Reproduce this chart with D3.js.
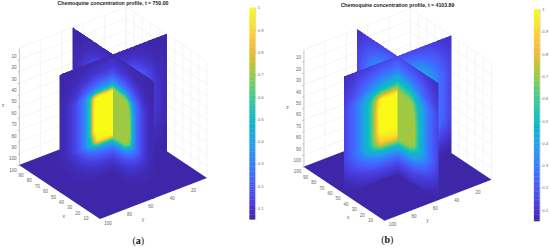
<!DOCTYPE html>
<html>
<head>
<meta charset="utf-8">
<script src="https://cdn.jsdelivr.net/npm/d3@7"></script>
<style>
  html, body { margin: 0; padding: 0; background: #fff; }
  svg { display: block; }
  text { font-family: "Liberation Sans", sans-serif; }
</style>
</head>
<body>
<div id="chart"></div>
<script>
// Tick labels
var xTicks = [10, 20, 30, 40, 50, 60, 70, 80, 90, 100];
var yTicks = [20, 40, 60, 80, 100];
var zTicks = [10, 20, 30, 40, 50, 60, 70, 80, 90, 100];
var barTicks = [0.1, 0.2, 0.3, 0.4, 0.5, 0.6, 0.7, 0.8, 0.9, 1];
var titles = ["Chemoquine concentration profile, t = 750.00", "Chemoquine concentration profile, t = 4103.89"];
var captions = ["a", "b"];

// Colormap stops (parula)
var parulaStops = ["#3E26A8", "#4537D5", "#484DF0", "#4563FD", "#327CFC", "#2B91EF", "#20A5E3", "#08B5D0", "#19BFB6",
  "#37C897", "#64CD6F", "#9DC943", "#D1BF27", "#F8BA3D", "#FCCF30", "#F5E924", "#F9FB15"];

// Where the slice values were read: distance from the centre line, and depth
var frontU = [0, 15, 17, 19, 21, 23, 26, 30, 35, 40, 45, 50];
var frontZ = [0, 10, 15, 20, 24, 28, 30, 32, 40, 50, 60, 68, 70, 72, 76, 80, 85, 90, 95, 100];
var backU = [0, 10, 20, 30, 40, 50];
var backZ = [0, 10, 20, 30, 40, 50, 60, 70, 80, 90, 100];

var frontLeftA = [
  [.062,.062,.062,.062,.06,.058,.056,.055,.054,.052,.05,.05],
  [.11,.10,.10,.095,.09,.085,.08,.072,.064,.058,.054,.052],
  [.165,.15,.14,.135,.125,.115,.105,.09,.075,.062,.056,.052],
  [.26,.225,.21,.20,.19,.18,.155,.125,.095,.072,.06,.055],
  [.37,.32,.30,.29,.27,.24,.20,.155,.105,.08,.065,.057],
  [.62,.58,.52,.46,.40,.35,.28,.21,.135,.095,.07,.06],
  [.88,.86,.80,.68,.54,.44,.32,.235,.15,.10,.07,.06],
  [1,1,.95,.84,.60,.46,.33,.24,.15,.10,.07,.06],
  [1,1,1,.88,.62,.48,.33,.24,.15,.10,.07,.06],
  [1,1,1,.88,.62,.48,.33,.24,.15,.10,.07,.06],
  [1,1,1,.88,.62,.48,.33,.24,.15,.10,.07,.06],
  [1,.95,.82,.66,.52,.44,.33,.24,.15,.10,.07,.06],
  [.88,.84,.74,.60,.50,.43,.32,.235,.15,.10,.07,.06],
  [.62,.60,.56,.50,.43,.37,.29,.22,.14,.095,.07,.06],
  [.37,.32,.30,.29,.27,.24,.20,.155,.105,.08,.065,.057],
  [.26,.225,.21,.20,.19,.18,.155,.125,.095,.072,.06,.055],
  [.165,.15,.14,.135,.125,.115,.105,.09,.075,.062,.056,.052],
  [.11,.10,.10,.095,.09,.085,.08,.072,.064,.058,.054,.052],
  [.075,.075,.075,.075,.072,.07,.068,.062,.058,.054,.052,.05],
  [.062,.062,.062,.062,.06,.058,.056,.055,.054,.052,.05,.05]
];
var frontRightA = [
  [.062,.062,.062,.062,.06,.058,.056,.055,.054,.052,.05,.05],
  [.11,.10,.10,.095,.09,.085,.08,.072,.064,.058,.054,.052],
  [.165,.15,.14,.135,.125,.115,.105,.09,.075,.062,.056,.052],
  [.26,.225,.21,.20,.19,.18,.155,.125,.095,.072,.06,.055],
  [.37,.32,.30,.29,.27,.24,.20,.155,.105,.08,.065,.057],
  [.60,.52,.46,.40,.34,.30,.26,.20,.13,.095,.07,.06],
  [.70,.66,.60,.50,.40,.34,.28,.22,.14,.10,.07,.06],
  [.705,.705,.70,.66,.55,.42,.31,.235,.15,.10,.07,.06],
  [.705,.705,.705,.705,.66,.52,.35,.24,.15,.10,.07,.06],
  [.705,.705,.705,.705,.69,.55,.36,.24,.15,.10,.07,.06],
  [.705,.705,.705,.705,.69,.55,.36,.24,.15,.10,.07,.06],
  [.705,.705,.705,.70,.62,.48,.33,.24,.15,.10,.07,.06],
  [.705,.70,.66,.58,.45,.38,.30,.23,.15,.10,.07,.06],
  [.64,.58,.50,.42,.36,.32,.27,.21,.14,.095,.07,.06],
  [.40,.34,.32,.30,.27,.24,.20,.155,.105,.08,.065,.057],
  [.27,.23,.21,.20,.19,.18,.155,.125,.095,.072,.06,.055],
  [.165,.15,.14,.135,.125,.115,.105,.09,.075,.062,.056,.052],
  [.11,.10,.10,.095,.09,.085,.08,.072,.064,.058,.054,.052],
  [.075,.075,.075,.075,.072,.07,.068,.062,.058,.054,.052,.05],
  [.062,.062,.062,.062,.06,.058,.056,.055,.054,.052,.05,.05]
];
var frontLeftB = [
  [.15,.145,.14,.14,.135,.13,.125,.115,.105,.095,.085,.075],
  [.265,.245,.24,.235,.225,.22,.205,.19,.165,.135,.11,.095],
  [.35,.32,.31,.30,.29,.275,.26,.23,.195,.16,.13,.105],
  [.47,.42,.40,.38,.36,.34,.31,.27,.22,.18,.14,.115],
  [.58,.54,.52,.50,.47,.44,.40,.34,.27,.215,.165,.13],
  [.76,.74,.70,.66,.60,.55,.48,.40,.32,.25,.19,.14],
  [.90,.88,.82,.74,.66,.60,.52,.43,.33,.25,.19,.14],
  [1,1,.96,.84,.72,.64,.54,.44,.33,.25,.19,.14],
  [1,1,1,.90,.76,.66,.55,.44,.33,.25,.19,.14],
  [1,1,1,.90,.76,.66,.55,.44,.33,.25,.19,.14],
  [1,1,.98,.88,.75,.66,.55,.44,.33,.25,.19,.14],
  [.92,.88,.84,.76,.68,.62,.53,.43,.33,.25,.19,.14],
  [.84,.80,.76,.70,.64,.58,.51,.42,.325,.25,.19,.14],
  [.74,.70,.66,.62,.58,.54,.47,.39,.31,.24,.185,.135],
  [.52,.48,.46,.45,.43,.41,.38,.33,.27,.21,.165,.125],
  [.39,.36,.35,.34,.33,.31,.29,.26,.22,.185,.145,.11],
  [.27,.25,.245,.24,.235,.225,.21,.19,.17,.145,.115,.09],
  [.175,.165,.16,.16,.155,.15,.14,.13,.115,.10,.085,.07],
  [.115,.115,.115,.115,.11,.11,.105,.10,.09,.08,.065,.058],
  [.075,.075,.075,.075,.072,.07,.068,.065,.06,.056,.052,.05]
];
var frontRightB = [
  [.15,.145,.14,.14,.135,.13,.125,.115,.105,.095,.085,.075],
  [.265,.245,.24,.235,.225,.22,.205,.19,.165,.135,.11,.095],
  [.35,.32,.31,.30,.29,.275,.26,.23,.195,.16,.13,.105],
  [.47,.42,.40,.38,.36,.34,.31,.27,.22,.18,.14,.115],
  [.58,.54,.52,.50,.47,.44,.40,.34,.27,.215,.165,.13],
  [.66,.62,.60,.57,.53,.50,.45,.38,.31,.24,.19,.14],
  [.705,.68,.65,.62,.57,.53,.47,.40,.32,.25,.19,.14],
  [.705,.705,.70,.68,.62,.56,.49,.42,.33,.25,.19,.14],
  [.705,.705,.705,.72,.68,.60,.52,.43,.33,.25,.19,.14],
  [.705,.705,.705,.72,.72,.63,.54,.44,.33,.25,.19,.14],
  [.705,.705,.705,.72,.72,.63,.54,.44,.33,.25,.19,.14],
  [.705,.705,.705,.70,.68,.60,.52,.43,.33,.25,.19,.14],
  [.705,.70,.68,.65,.60,.55,.49,.41,.325,.25,.19,.14],
  [.68,.63,.60,.56,.53,.50,.45,.38,.31,.24,.185,.135],
  [.52,.48,.46,.45,.43,.41,.38,.33,.27,.21,.165,.125],
  [.39,.36,.35,.34,.33,.31,.29,.26,.22,.185,.145,.11],
  [.27,.25,.245,.24,.235,.225,.21,.19,.17,.145,.115,.09],
  [.175,.165,.16,.16,.155,.15,.14,.13,.115,.10,.085,.07],
  [.115,.115,.115,.115,.11,.11,.105,.10,.09,.08,.065,.058],
  [.075,.075,.075,.075,.072,.07,.068,.065,.06,.056,.052,.05]
];
// Back quarters are mostly hidden
var backA = [
  [.06,.06,.058,.055,.052,.05],
  [.10,.10,.09,.07,.058,.052],
  [.25,.24,.19,.115,.07,.055],
  [.85,.73,.41,.19,.09,.058],
  [1,1,.73,.24,.10,.06],
  [1,1,.85,.25,.10,.06],
  [1,1,.73,.24,.10,.06],
  [.85,.73,.41,.19,.09,.058],
  [.25,.24,.19,.115,.07,.055],
  [.10,.10,.09,.07,.058,.052],
  [.06,.06,.058,.055,.052,.05]
];
var backB = [
  [.15,.15,.14,.125,.105,.085],
  [.265,.265,.24,.20,.15,.105],
  [.47,.46,.40,.30,.20,.13],
  [.85,.80,.57,.40,.25,.14],
  [1,1,.80,.44,.25,.14],
  [1,1,.85,.44,.25,.14],
  [1,1,.80,.44,.25,.14],
  [.80,.75,.55,.40,.24,.135],
  [.39,.38,.33,.26,.17,.11],
  [.175,.17,.155,.13,.10,.07],
  [.075,.072,.066,.06,.054,.05]
];
var floorValue = 0.05;

var panelData = [
  { frontLeft: frontLeftA, frontRight: frontRightA, back: backA },
  { frontLeft: frontLeftB, frontRight: frontRightB, back: backB }
];

var width = 550, height = 251;
var svg = d3.select("#chart").append("svg").attr("width", width).attr("height", height);

// Slight softening, the source picture is a scaled down bitmap
svg.append("defs").append("filter")
  .attr("id", "soft")
  .attr("x", "-5%").attr("y", "-5%").attr("width", "110%").attr("height", "110%")
  .append("feGaussianBlur")
  .attr("stdDeviation", 0.4);

// Colour scale
var color = d3.scaleLinear()
  .domain(parulaStops.map((d, i) => 0.05 + 0.95 * i / (parulaStops.length - 1)))
  .range(parulaStops)
  .clamp(true);

// 3D view: one scale per data axis, added together
var xDx = d3.scaleLinear().domain([0, 100]).range([0, -81]);
var xDy = d3.scaleLinear().domain([0, 100]).range([0, -54]);
var yDx = d3.scaleLinear().domain([100, 0]).range([0, 107]);
var yDy = d3.scaleLinear().domain([100, 0]).range([0, -41]);
var zDy = d3.scaleLinear().domain([100, 0]).range([0, -117]);

function project(x, y, z) {
  return [100 + xDx(x) + yDx(y), 219 + xDy(x) + yDy(y) + zDy(z)];
}

var gridColor = "#eeeeee", tickColor = "#777";

// Shading between the table's read values, like shading interp
function shade(table, us, zs, u, z) {
  var c = Math.min(d3.bisectRight(us, u) - 1, us.length - 2);
  var r = Math.min(d3.bisectRight(zs, z) - 1, zs.length - 2);
  var fc = (u - us[c]) / (us[c + 1] - us[c]), fr = (z - zs[r]) / (zs[r + 1] - zs[r]);
  return (table[r][c] * (1 - fc) + table[r][c + 1] * fc) * (1 - fr) +
    (table[r + 1][c] * (1 - fc) + table[r + 1][c + 1] * fc) * fr;
}

// Draws one quarter of a slice. toPoint(u, z) gives the pixel position
function drawQuarter(g, table, us, zs, step, toPoint) {
  var cells = [];
  for (var z = 0; z < 100; z += step) {
    for (var u = 0; u < 50; u += step) {
      cells.push({ u: u, z: z, v: shade(table, us, zs, u + step / 2, z + step / 2) });
    }
  }
  g.append("g").selectAll("path")
    .data(cells)
    .join("path")
    .attr("d", d => d3.line()([
      toPoint(d.u, d.z),
      toPoint(d.u + step, d.z),
      toPoint(d.u + step, d.z + step),
      toPoint(d.u, d.z + step)
    ]) + "Z")
    .attr("fill", d => color(d.v))
    .attr("stroke", d => color(d.v))
    .attr("stroke-width", 0.5)
    .attr("shape-rendering", "crispEdges");
}

function drawPanel(i, offsetX, offsetY) {
  var g = svg.append("g").attr("transform", "translate(" + offsetX + "," + offsetY + ")");
  var data = panelData[i];

  // Grid on the two back walls
  var walls = g.append("g").attr("stroke", gridColor).attr("stroke-width", 0.6).attr("fill", "none");
  var wallLine = (a, b) => walls.append("path").attr("d", d3.line()([a, b]));
  [0].concat(zTicks).forEach(z => {
    wallLine(project(100, 100, z), project(100, 0, z));
    wallLine(project(100, 0, z), project(0, 0, z));
  });
  [0].concat(yTicks).forEach(y => wallLine(project(100, y, 100), project(100, y, 0)));
  [0].concat(xTicks).forEach(x => wallLine(project(x, 0, 100), project(x, 0, 0)));

  var surface = g.append("g").attr("filter", "url(#soft)");

  // Floor
  surface.append("path")
    .attr("d", d3.line()([project(0, 100, 100), project(100, 100, 100), project(100, 0, 100), project(0, 0, 100)]) + "Z")
    .attr("fill", color(floorValue));

  // Slices, back to front
  drawQuarter(surface, data.back, backU, backZ, 2, (u, z) => project(50 + u, 50, z));
  drawQuarter(surface, data.back, backU, backZ, 2, (u, z) => project(50, 50 - u, z));
  drawQuarter(surface, data.frontLeft, frontU, frontZ, 1, (u, z) => project(50, 50 + u, z));
  drawQuarter(surface, data.frontRight, frontU, frontZ, 1, (u, z) => project(50 - u, 50, z));

  // z axis
  var zTop = project(100, 100, 0), zBottom = project(100, 100, 100);
  var zScale = d3.scaleLinear().domain([0, 100]).range([zTop[1], zBottom[1]]);
  var zAxis = g.append("g")
    .attr("transform", "translate(" + zTop[0] + ",0)")
    .call(d3.axisLeft(zScale).tickValues(zTicks).tickSize(1.5).tickPadding(1).tickSizeOuter(0));
  zAxis.select(".domain").attr("stroke", "#999").attr("stroke-width", 0.5);
  zAxis.selectAll("line").attr("stroke", tickColor).attr("stroke-width", 0.4);
  zAxis.selectAll("text").attr("font-size", 4.5).attr("fill", "#666").attr("dy", d => (-2.2 - d * 0.03) + "px")
    .style("font-family", "Liberation Sans");

  var label = (text, x, y, size) => g.append("text")
    .attr("x", x).attr("y", y)
    .attr("text-anchor", "middle")
    .attr("dominant-baseline", "middle")
    .attr("font-size", size || 4.5)
    .attr("fill", "#666")
    .text(text);

  xTicks.forEach(x => {
    var p = project(x, 100, 100);
    label(x, p[0] - 6, p[1] + 5.5);
  });
  yTicks.forEach(y => {
    var p = project(0, y, 100);
    label(y, p[0] + 8, p[1] + 4.5);
  });
  label("x", 63.7, 216.3, 5);
  label("y", 143, 219.3, 5);
  label("z", 3, 106, 5);

  // Title
  g.append("text")
    .attr("x", 113).attr("y", 4)
    .attr("text-anchor", "middle")
    .attr("dominant-baseline", "middle")
    .attr("font-size", 5.2)
    .attr("font-weight", "bold")
    .attr("fill", "#222")
    .text(titles[i]);

  // Colorbar
  var barScale = d3.scaleLinear().domain([0.05, 1]).range([219.3, 7.6]);
  var barValues = d3.range(0.05, 1, 0.95 / 128);
  var bar = g.append("g").attr("transform", "translate(249.4,0)");
  bar.selectAll("rect")
    .data(barValues)
    .join("rect")
    .attr("x", 0)
    .attr("width", 5.8)
    .attr("y", d => barScale(d + 0.95 / 128))
    .attr("height", (barScale(0) - barScale(0.95 / 128)) + 0.3)
    .attr("fill", d => color(d));
  var barAxis = bar.append("g")
    .attr("transform", "translate(5.8,0)")
    .call(d3.axisRight(barScale).tickValues(barTicks).tickFormat(d3.format("")).tickSize(1).tickPadding(1.5).tickSizeOuter(0));
  barAxis.select(".domain").attr("stroke", "#aaa").attr("stroke-width", 0.4);
  barAxis.selectAll("line").attr("stroke", tickColor).attr("stroke-width", 0.4);
  barAxis.selectAll("text").attr("font-size", 4.2).attr("fill", "#666").style("font-family", "Liberation Sans");

  // Caption
  var caption = g.append("text")
    .attr("x", i === 0 ? 138.3 : 102.8).attr("y", 241.5 - offsetY)
    .attr("text-anchor", "middle")
    .attr("dominant-baseline", "middle")
    .attr("font-size", 10)
    .attr("fill", "#111")
    .style("font-family", "Liberation Serif");
  caption.append("tspan").text("(");
  caption.append("tspan").attr("font-weight", "bold").text(captions[i]);
  caption.append("tspan").text(")");
}

drawPanel(0, 0, 0);
drawPanel(1, 284.5, 1.7);
</script>
</body>
</html>
